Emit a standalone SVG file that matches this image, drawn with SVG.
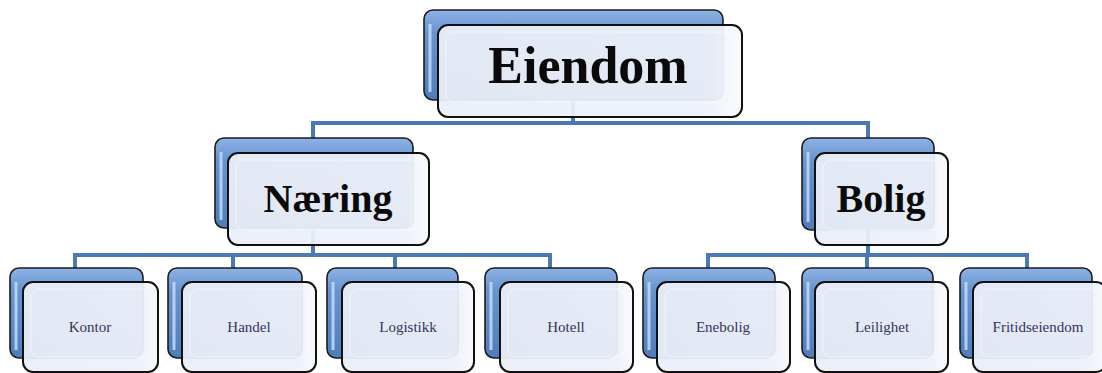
<svg xmlns="http://www.w3.org/2000/svg" width="1102" height="373" viewBox="0 0 1102 373">
  <defs>
    <linearGradient id="gBack" x1="0" y1="0" x2="0" y2="1">
      <stop offset="0" stop-color="#8db3e6"/>
      <stop offset="0.25" stop-color="#6893cf"/>
      <stop offset="1" stop-color="#4f7dbc"/>
    </linearGradient>
    <linearGradient id="gFront" x1="0" y1="0" x2="1" y2="0">
      <stop offset="0" stop-color="#eaeff8"/>
      <stop offset="0.88" stop-color="#edf1f9"/>
      <stop offset="1" stop-color="#f8fafd"/>
    </linearGradient>
    <style>
      .conn{stroke:#4b79b6;stroke-width:4;fill:none;stroke-linecap:square}
      .back{fill:url(#gBack);stroke:#1c1c1c;stroke-width:1.6}
      .hl{fill:none;stroke:#c3dbf6;stroke-width:3;stroke-opacity:0.85}
      .front{fill:url(#gFront);fill-opacity:0.94;stroke:#111;stroke-width:2}
      .inner{fill:none;stroke:#ffffff;stroke-width:1.5;stroke-opacity:0.35}
      .big{font-family:"Liberation Serif",serif;font-weight:bold;fill:#0a0a0a;text-anchor:middle}
      .leaf{font-family:"Liberation Serif",serif;font-size:15px;fill:#35355a;text-anchor:middle}
    </style>
  </defs>
  <rect width="1102" height="373" fill="#ffffff"/>
  <g id="connectors">
    <path class="conn" d="M573 100V123M313 123H868M313 123V138M868 123V138"/>
    <path class="conn" d="M313 228V255M75 255H550M75 255V268M233 255V268M395 255V268M550 255V268"/>
    <path class="conn" d="M868 230V255M708 255H1027M708 255V268M867 255V268M1027 255V268"/>
  </g>
  <g id="eiendom">
    <rect class="back" x="424" y="10" width="299" height="90" rx="9"/>
    <path class="hl" d="M430 24V92"/>
    <rect class="front" x="438" y="25" width="304" height="92" rx="10"/>
    <rect class="inner" x="446" y="32" width="288" height="70" rx="8"/>
    <text class="big" x="588" y="83" font-size="52">Eiendom</text>
  </g>
  <g id="naering">
    <rect class="back" x="215" y="138" width="198" height="90" rx="9"/>
    <path class="hl" d="M221 152V220"/>
    <rect class="front" x="228" y="153" width="201" height="92" rx="10"/>
    <rect class="inner" x="236" y="160" width="185" height="70" rx="8"/>
    <text class="big" x="328" y="212" font-size="40">Næring</text>
  </g>
  <g id="bolig">
    <rect class="back" x="802" y="138" width="132" height="92" rx="9"/>
    <path class="hl" d="M808 152V222"/>
    <rect class="front" x="815" y="153" width="133" height="92" rx="10"/>
    <rect class="inner" x="823" y="160" width="117" height="70" rx="8"/>
    <text class="big" x="881" y="212" font-size="40">Bolig</text>
  </g>
  <g id="kontor">
    <rect class="back" x="10" y="268" width="133" height="90" rx="9"/>
    <path class="hl" d="M16 282V350"/>
    <rect class="front" x="23" y="282" width="135" height="90" rx="10"/>
    <rect class="inner" x="31" y="289" width="119" height="68" rx="8"/>
    <text class="leaf" x="90" y="332">Kontor</text>
  </g>
  <g id="handel">
    <rect class="back" x="168" y="268" width="134" height="90" rx="9"/>
    <path class="hl" d="M174 282V350"/>
    <rect class="front" x="182" y="282" width="134" height="90" rx="10"/>
    <rect class="inner" x="190" y="289" width="118" height="68" rx="8"/>
    <text class="leaf" x="249" y="332">Handel</text>
  </g>
  <g id="logistikk">
    <rect class="back" x="327" y="268" width="131" height="90" rx="9"/>
    <path class="hl" d="M333 282V350"/>
    <rect class="front" x="342" y="282" width="132" height="90" rx="10"/>
    <rect class="inner" x="350" y="289" width="116" height="68" rx="8"/>
    <text class="leaf" x="408" y="332">Logistikk</text>
  </g>
  <g id="hotell">
    <rect class="back" x="485" y="268" width="132" height="90" rx="9"/>
    <path class="hl" d="M491 282V350"/>
    <rect class="front" x="500" y="282" width="133" height="90" rx="10"/>
    <rect class="inner" x="508" y="289" width="117" height="68" rx="8"/>
    <text class="leaf" x="566" y="332">Hotell</text>
  </g>
  <g id="enebolig">
    <rect class="back" x="643" y="268" width="132" height="90" rx="9"/>
    <path class="hl" d="M649 282V350"/>
    <rect class="front" x="657" y="282" width="133" height="90" rx="10"/>
    <rect class="inner" x="665" y="289" width="117" height="68" rx="8"/>
    <text class="leaf" x="723" y="332">Enebolig</text>
  </g>
  <g id="leilighet">
    <rect class="back" x="802" y="268" width="131" height="90" rx="9"/>
    <path class="hl" d="M808 282V350"/>
    <rect class="front" x="815" y="282" width="133" height="90" rx="10"/>
    <rect class="inner" x="823" y="289" width="117" height="68" rx="8"/>
    <text class="leaf" x="882" y="332">Leilighet</text>
  </g>
  <g id="fritidseiendom">
    <rect class="back" x="960" y="268" width="132" height="90" rx="9"/>
    <path class="hl" d="M966 282V350"/>
    <rect class="front" x="973" y="282" width="133" height="90" rx="10"/>
    <rect class="inner" x="981" y="289" width="117" height="68" rx="8"/>
    <text class="leaf" x="1038" y="332">Fritidseiendom</text>
  </g>
</svg>
